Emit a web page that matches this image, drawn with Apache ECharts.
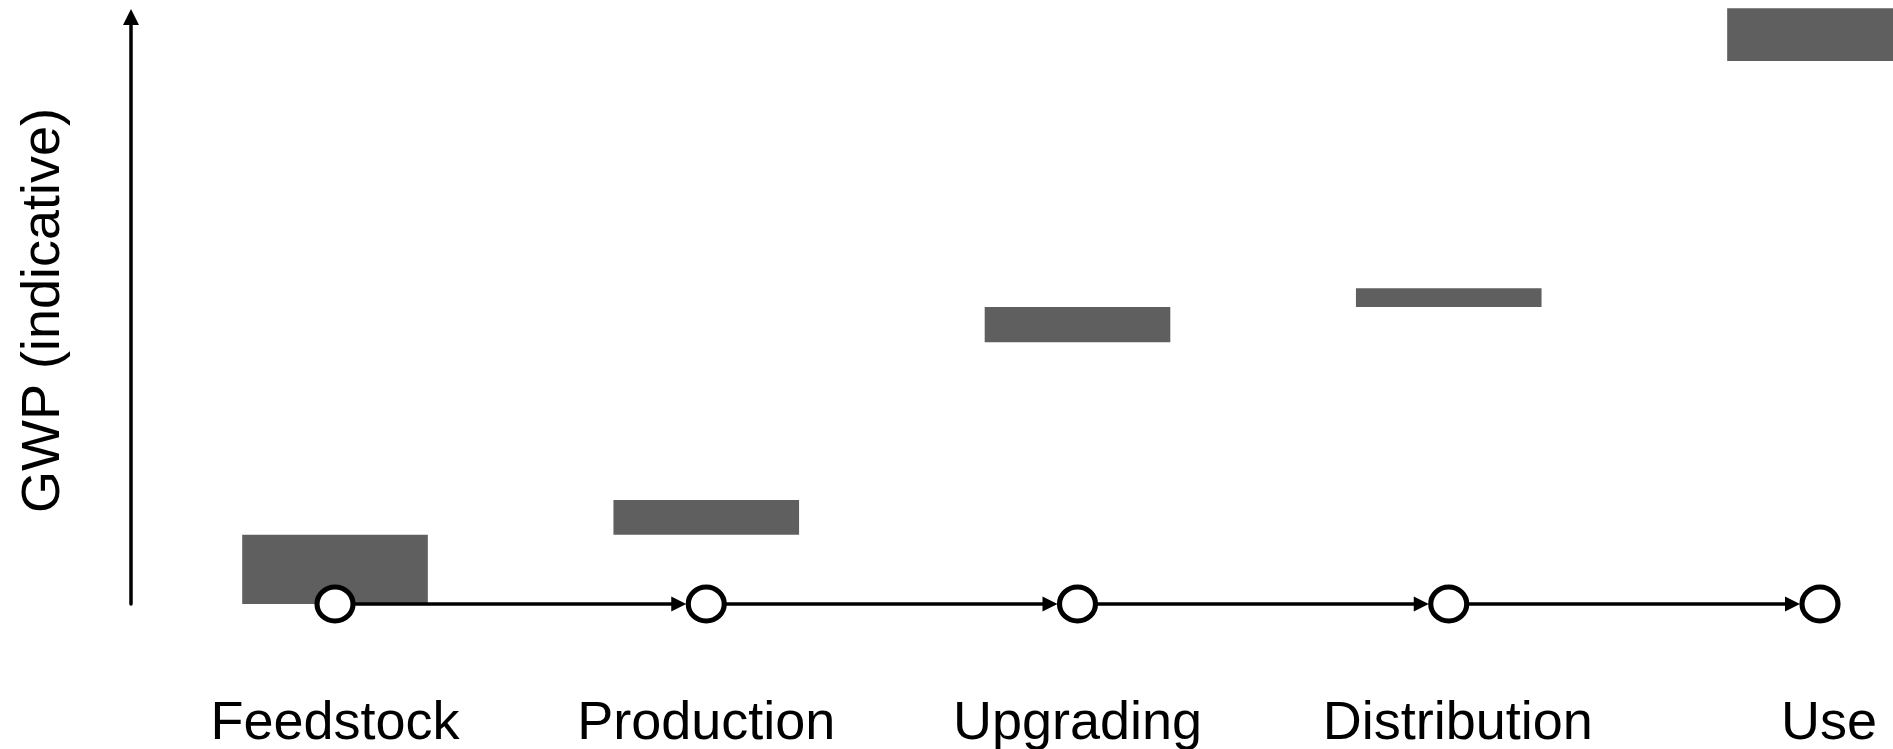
<!DOCTYPE html>
<html>
<head>
<meta charset="utf-8">
<script src="https://cdn.jsdelivr.net/npm/echarts@6/dist/echarts.min.js"></script>
<style>
  html, body { margin: 0; padding: 0; background: #fff; }
  #chart { width: 1893px; height: 749px; }
</style>
</head>
<body>
<div id="chart"></div>
<script>
// life-cycle stages along the bottom
const stages = ['Feedstock', 'Production', 'Upgrading', 'Distribution', 'Use']
// floating bars: lower and upper GWP (indicative units, 0-100 axis)
const barLow = [0, 11.8, 44.6, 50.6, 92.5]
const barHigh = [11.8, 17.7, 50.6, 53.8, 101.5]
// stage nodes sit on the zero line, arrows go stage -> next stage
const nodeValue = [0, 0, 0, 0, 0]
const flowLinks = [[0, 1], [1, 2], [2, 3], [3, 4]]

const font = '"Liberation Sans", Arial, Helvetica, sans-serif'
const nodeRadius = 20

const chart = echarts.init(document.getElementById('chart'))

const labelStyle = {
  color: '#000',
  fontFamily: font,
  fontSize: 54,
  verticalAlign: 'middle'
}
// last two labels sit a little right of their node in the original
const labelNudge = { Distribution: 18, Use: 18 }

const option = {
  animation: false,
  grid: {
    left: 149.4,
    right: -112.6,
    top: 17,
    bottom: 145,
    containLabel: false,
    outerBoundsMode: 'none'
  },
  xAxis: {
    type: 'category',
    data: stages.map(s => labelNudge[s]
      ? { value: s, textStyle: Object.assign({}, labelStyle, { padding: [0, 0, 0, labelNudge[s]] }) }
      : s),
    axisLine: { show: false },
    axisTick: { show: false },
    splitLine: { show: false },
    axisLabel: Object.assign({}, labelStyle, { margin: 120, interval: 0 })
  },
  yAxis: {
    type: 'value',
    min: 0,
    max: 100,
    offset: 18.4,
    name: 'GWP (indicative)',
    nameLocation: 'middle',
    nameRotate: 90,
    nameGap: 60,
    nameTextStyle: {
      color: '#000',
      fontFamily: font,
      fontSize: 54
    },
    axisLine: {
      show: true,
      symbol: ['none', 'triangle'],
      symbolSize: [16, 16],
      lineStyle: { color: '#000', width: 3.5 }
    },
    axisTick: { show: false },
    axisLabel: { show: false },
    splitLine: { show: false }
  },
  series: [
    {
      name: 'base',
      type: 'bar',
      stack: 'gwp',
      barWidth: '50%',
      clip: false,
      silent: true,
      itemStyle: { color: 'rgba(0,0,0,0)' },
      data: barLow
    },
    {
      name: 'GWP',
      type: 'bar',
      stack: 'gwp',
      barWidth: '50%',
      clip: false,
      itemStyle: { color: '#5f5f5f' },
      data: barHigh.map((h, i) => +(h - barLow[i]).toFixed(2))
    },
    {
      name: 'flow',
      type: 'custom',
      z: 3,
      clip: false,
      data: flowLinks,
      renderItem: (params, api) => {
        const from = api.coord([api.value(0), nodeValue[api.value(0)]])
        const to = api.coord([api.value(1), nodeValue[api.value(1)]])
        const tipX = to[0] - nodeRadius
        const headLen = 15
        const headHalf = 7.5
        return {
          type: 'group',
          children: [
            {
              type: 'line',
              shape: { x1: from[0], y1: from[1], x2: tipX - headLen + 2, y2: to[1] },
              style: { stroke: '#000', lineWidth: 3.5 }
            },
            {
              type: 'polygon',
              shape: {
                points: [
                  [tipX, to[1]],
                  [tipX - headLen, to[1] - headHalf],
                  [tipX - headLen, to[1] + headHalf]
                ]
              },
              style: { fill: '#000' }
            }
          ]
        }
      }
    },
    {
      name: 'nodes',
      type: 'scatter',
      z: 4,
      clip: false,
      symbol: 'circle',
      symbolSize: [36, 34],
      itemStyle: { color: '#fff', borderColor: '#000', borderWidth: 5, opacity: 1 },
      data: nodeValue
    }
  ]
}

chart.setOption(option)
</script>
</body>
</html>
